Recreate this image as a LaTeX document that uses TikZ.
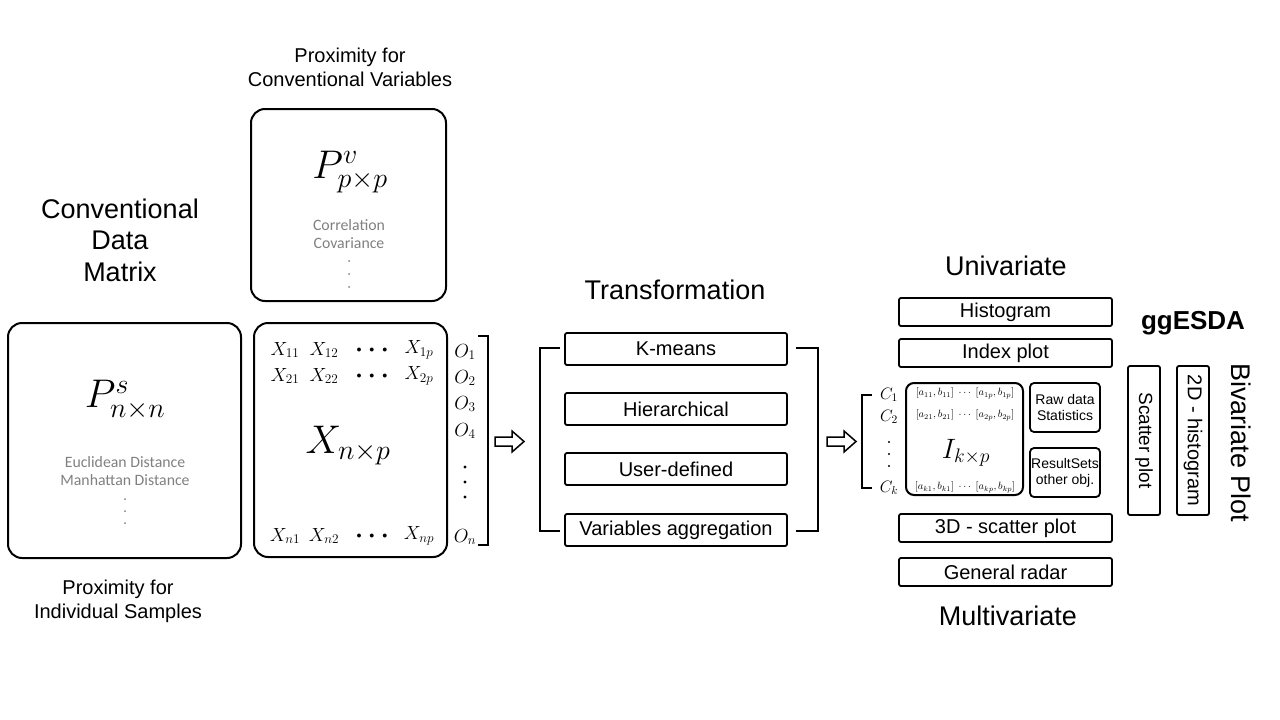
\RequirePackage{fix-cm}
\documentclass[tikz,border=0pt]{standalone}
\usepackage{amsmath}
\usepackage{fontspec}
\setmainfont{Liberation Sans}
\newfontfamily\calib{Carlito}
\definecolor{greytxt}{RGB}{128,128,128}
\tikzset{
  bigbox/.style={draw, line width=2pt, rounded corners=14pt, inner sep=0pt},
  pbox/.style={draw, line width=1.8pt, rounded corners=2pt, inner sep=0pt, font=\fontsize{20}{24}\selectfont},
  sbox/.style={draw, line width=1.8pt, rounded corners=4pt, inner sep=0pt, align=center, font=\fontsize{14}{16}\selectfont},
  lab/.style={font=\fontsize{27}{31.5}\selectfont, align=center, inner sep=0pt},
  sublab/.style={font=\fontsize{20}{24}\selectfont, align=center, inner sep=0pt},
  greyt/.style={font=\calib\fontsize{15.8}{18.5}\selectfont, text=greytxt, align=center, inner sep=0pt},
  bigmath/.style={font=\fontsize{40}{44}\selectfont, inner sep=0pt},
  xent/.style={font=\fontsize{19}{22}\selectfont, inner sep=0pt},
  cent/.style={font=\fontsize{16.5}{19}\selectfont, inner sep=0pt},
  ient/.style={font=\fontsize{10.5}{12}\selectfont, inner sep=0pt},
  brk/.style={line width=1.8pt},
  hollow/.style={line width=1.5pt, line join=miter},
  greydot/.style={fill=greytxt},
  blackdot/.style={fill=black}
}
\begin{document}
\begin{tikzpicture}[x=1pt,y=-1pt]
\useasboundingbox (0,0) rectangle (1280,720);
% ---- top box: proximity for variables
\node[sublab] (proxv) at (350,67) {Proximity for\\Conventional Variables};
\node[bigbox, minimum width=195pt, minimum height=192pt] (pv) at (348.5,205) {};
\node[bigmath] (pvm) at (350,172) {$P^{v}_{p\times p}$};
\node[greyt] (pvt) at (349,234) {Correlation\\Covariance};
\foreach \yy in {261,274,287} \fill[greydot] (349,\yy) circle (1pt);
% ---- left box: proximity for samples
\node[lab] (cdm) at (120,240) {Conventional\\Data\\Matrix};
\node[bigbox, minimum width=233pt, minimum height=235pt] (ps) at (124.5,440.5) {};
\node[bigmath] (psm) at (125,400) {$P^{s}_{n\times n}$};
\node[greyt] (pst) at (125,471) {Euclidean Distance\\Manhattan Distance};
\foreach \yy in {499,511,523} \fill[greydot] (125,\yy) circle (1pt);
\node[sublab] (proxs) at (118,601) {Proximity for\\Individual Samples};
% ---- data matrix
\node[bigbox, minimum width=193pt, minimum height=234pt] (xm) at (350.5,440) {};
\node[xent] (x11) at (285,350) {$X_{11}$};
\node[xent] (x12) at (324,350) {$X_{12}$};
\node[font=\fontsize{10}{12}\selectfont] (xd1) at (372,350) {$\bullet\;\;\bullet\;\;\bullet$};
\node[xent] (x1p) at (419,350) {$X_{1p}$};
\node[xent] (x21) at (285,376) {$X_{21}$};
\node[xent] (x22) at (324,376) {$X_{22}$};
\node[font=\fontsize{10}{12}\selectfont] (xd2) at (372,376) {$\bullet\;\;\bullet\;\;\bullet$};
\node[xent] (x2p) at (419,376) {$X_{2p}$};
\node[xent] (xn1) at (285,536) {$X_{n1}$};
\node[xent] (xn2) at (324,536) {$X_{n2}$};
\node[font=\fontsize{10}{12}\selectfont] (xdn) at (372,536) {$\bullet\;\;\bullet\;\;\bullet$};
\node[xent] (xnp) at (419,536) {$X_{np}$};
\node[bigmath] (xnpm) at (348,446) {$X_{n\times p}$};
\node[xent] (o1) at (465,352) {$O_1$};
\node[xent] (o2) at (465,378) {$O_2$};
\node[xent] (o3) at (465,404) {$O_3$};
\node[xent] (o4) at (465,431) {$O_4$};
\foreach \yy in {467,482,497} \fill[blackdot] (465,\yy) circle (1.6pt);
\node[xent] (on) at (465,537) {$O_n$};
\coordinate (b1a) at (478,336); \coordinate (b1b) at (488,336);
\coordinate (b1c) at (488,545); \coordinate (b1d) at (478,545);
\draw[brk] (b1a) -- (b1b) -- (b1c) -- (b1d);
% ---- arrow 1
\draw[hollow] (495,437) -- (512,437) -- (512,431) -- (524,441.5) -- (512,452) -- (512,446) -- (495,446) -- cycle;
% ---- transformation
\node[lab] (trans) at (675,290) {Transformation};
\node[pbox, minimum width=222pt, minimum height=32pt] (km) at (676,349) {K-means};
\node[pbox, minimum width=222pt, minimum height=32pt] (hi) at (676,409) {Hierarchical};
\node[pbox, minimum width=222pt, minimum height=32pt] (ud) at (676,469) {User-defined};
\node[pbox, minimum width=222pt, minimum height=32pt] (va) at (676,530) {Variables aggregation};
\coordinate (t1a) at (560,348); \coordinate (t1b) at (540,348);
\coordinate (t1c) at (540,531); \coordinate (t1d) at (560,531);
\draw[brk] (t1a) -- (t1b) -- (t1c) -- (t1d);
\coordinate (t2a) at (796,348); \coordinate (t2b) at (818,348);
\coordinate (t2c) at (818,531); \coordinate (t2d) at (796,531);
\draw[brk] (t2a) -- (t2b) -- (t2c) -- (t2d);
% ---- arrow 2
\draw[hollow] (827,437) -- (844,437) -- (844,431) -- (856,441.5) -- (844,452) -- (844,446) -- (827,446) -- cycle;
% ---- univariate / multivariate
\node[lab] (uni) at (1006,266) {Univariate};
\node[pbox, minimum width=213pt, minimum height=28pt] (hist) at (1005.5,312) {Histogram};
\node[pbox, minimum width=213pt, minimum height=28pt] (idx) at (1005.5,353) {Index plot};
\node[pbox, minimum width=213pt, minimum height=28pt] (sc3) at (1005.5,528) {3D - scatter plot};
\node[pbox, minimum width=213pt, minimum height=28pt] (rad) at (1005.5,572) {General radar};
\node[lab] (multi) at (1008,616) {Multivariate};
% ---- interval matrix
\coordinate (c1a) at (872,395); \coordinate (c1b) at (862,395);
\coordinate (c1c) at (862,488); \coordinate (c1d) at (872,488);
\draw[brk] (c1a) -- (c1b) -- (c1c) -- (c1d);
\node[cent] (ca) at (889,395) {$C_1$};
\node[cent] (cb) at (889,417) {$C_2$};
\foreach \yy in {442,454,466} \fill[blackdot] (889,\yy) circle (1.1pt);
\node[cent] (ck) at (889,488) {$C_k$};
\node[bigbox, rounded corners=8pt, minimum width=117pt, minimum height=112pt] (im) at (964.5,439) {};
\node[ient] (ir1) at (965,393) {$[a_{11},b_{11}]\;\cdots\;[a_{1p},b_{1p}]$};
\node[ient] (ir2) at (965,415) {$[a_{21},b_{21}]\;\cdots\;[a_{2p},b_{2p}]$};
\node[ient] (irk) at (965,487) {$[a_{k1},b_{k1}]\;\cdots\;[a_{kp},b_{kp}]$};
\node[font=\fontsize{28}{32}\selectfont, inner sep=0pt] (ikp) at (966,453) {$I_{k\times p}$};
\node[sbox, minimum width=70pt, minimum height=49pt] (raw) at (1065,407.5) {Raw data\\Statistics};
\node[sbox, minimum width=70pt, minimum height=49pt] (res) at (1065,472.5) {ResultSets\\other obj.};
% ---- bivariate
\node[lab, font=\fontsize{26}{30}\selectfont\bfseries] (gg) at (1193,323) {ggESDA};
\node[pbox, rounded corners=2pt, minimum width=149pt, minimum height=32pt, rotate=-90, font=\fontsize{19}{22}\selectfont] (scat) at (1144,440.5) {Scatter plot};
\node[pbox, rounded corners=2pt, minimum width=149pt, minimum height=32pt, rotate=-90, font=\fontsize{20}{22}\selectfont] (h2d) at (1193,440.5) {2D - histogram};
\node[lab, rotate=-90] (biv) at (1241,443) {Bivariate Plot};
\end{tikzpicture}
\end{document}
